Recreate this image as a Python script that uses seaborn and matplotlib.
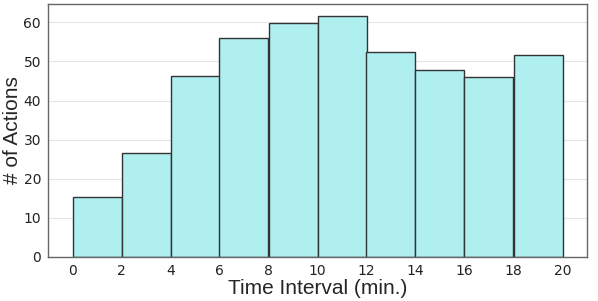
import numpy as np
import pandas as pd
import matplotlib
matplotlib.use("Agg")
import matplotlib.pyplot as plt
import seaborn as sns

bin_centers = [1, 3, 5, 7, 9, 11, 13, 15, 17, 19]
counts = [15.3, 26.5, 46.2, 55.9, 59.9, 61.6, 52.5, 47.9, 46.1, 51.7]
bin_edges = [0, 2, 4, 6, 8, 10, 12, 14, 16, 18, 20]
xticks = [0, 2, 4, 6, 8, 10, 12, 14, 16, 18, 20]
yticks = [0, 10, 20, 30, 40, 50, 60]

sns.set_style("whitegrid")
plt.rcParams['font.family'] = ['DejaVu Sans']

df = pd.DataFrame({"t": bin_centers, "n": counts})

fig = plt.figure(figsize=(5.98, 3.01), dpi=100)
ax = fig.add_axes([48/598, 1 - 257/301, (587-48)/598, (257-4)/301])
sns.histplot(data=df, x="t", weights="n", bins=bin_edges, ax=ax,
             color="#AFEFEF", alpha=1.0, edgecolor="#333333", linewidth=1.0)
ax.set_xlim(-1, 21)
ax.set_ylim(0, 64.7)
ax.set_xticks(xticks)
ax.set_yticks(yticks)
ax.grid(axis="x", visible=False)
ax.grid(axis="y", color="#e6e6e6", linewidth=0.8)
for s in ax.spines.values():
    s.set_color("#666666")
    s.set_linewidth(1.0)
ax.tick_params(axis="both", labelsize=10, colors="#222222", length=3, width=0.8, pad=2)
ax.tick_params(axis="both", color="#666666")
ax.set_xlabel("Time Interval (min.)", fontsize=15, family="Liberation Sans", labelpad=1)
ax.set_ylabel("# of Actions", fontsize=15, family="Liberation Sans", labelpad=1)
fig.savefig("out.png", dpi=100)
